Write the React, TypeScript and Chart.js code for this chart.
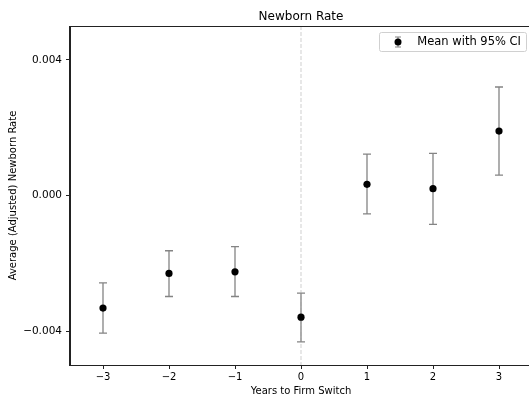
import React, { useEffect, useRef } from "react";
import { Chart, registerables } from "chart.js";

Chart.register(...registerables);

// Event-study estimates: mean newborn rate by years relative to the firm switch
const years = [-3, -2, -1, 0, 1, 2, 3];
const means = [-0.00332, -0.0023, -0.00225, -0.00359, 0.00033, 0.0002, 0.0019];
const ciLower = [-0.00406, -0.00298, -0.00298, -0.00432, -0.00054, -0.00085, 0.0006];
const ciUpper = [-0.00258, -0.00163, -0.00151, -0.00288, 0.00122, 0.00124, 0.0032];

const xTicks = [-3, -2, -1, 0, 1, 2, 3];
const yTicks = [-0.004, 0, 0.004];

const titleText = "Newborn Rate";
const xTitle = "Years to Firm Switch";
const yTitle = "Average (Adjusted) Newborn Rate";
const legendLabel = "Mean with 95% CI";

const FONT = "'DejaVu Sans', sans-serif";
const BAR_COLOR = "rgba(110,110,110,0.85)";

const minus = (s: string) => s.replace("-", "\u2212");

// Vertical CI whiskers with caps, drawn underneath the mean markers
const errorBars = {
  id: "errorBars",
  beforeDatasetsDraw(chart: any) {
    const { ctx, scales } = chart;
    const xs = scales.x;
    const ys = scales.y;
    ctx.save();
    ctx.strokeStyle = BAR_COLOR;
    ctx.lineWidth = 1.3;
    years.forEach((yr, i) => {
      const px = xs.getPixelForValue(yr);
      const top = ys.getPixelForValue(ciUpper[i]);
      const bot = ys.getPixelForValue(ciLower[i]);
      ctx.beginPath();
      ctx.moveTo(px, top);
      ctx.lineTo(px, bot);
      ctx.moveTo(px - 4, top);
      ctx.lineTo(px + 4, top);
      ctx.moveTo(px - 4, bot);
      ctx.lineTo(px + 4, bot);
      ctx.stroke();
    });
    // dashed reference line at the switch year
    const zx = xs.getPixelForValue(0);
    ctx.strokeStyle = "rgba(160,160,160,0.5)";
    ctx.lineWidth = 1;
    ctx.setLineDash([4, 2]);
    ctx.beginPath();
    ctx.moveTo(zx, chart.chartArea.top);
    ctx.lineTo(zx, chart.chartArea.bottom);
    ctx.stroke();
    ctx.restore();
  },
};

// Axes frame and legend box
const frameAndLegend = {
  id: "frameAndLegend",
  afterDraw(chart: any) {
    const { ctx, chartArea } = chart;
    const { left, top, right, bottom } = chartArea;
    ctx.save();
    ctx.strokeStyle = "#222";
    ctx.lineWidth = 1;
    ctx.strokeRect(Math.round(left) - 0.5, Math.round(top) + 0.5, Math.round(right - left), Math.round(bottom - top));

    // legend
    const bw = 147;
    const bh = 19;
    const bx = Math.round(right) - 153;
    const by = Math.round(top) + 6;
    ctx.fillStyle = "rgba(255,255,255,0.85)";
    ctx.strokeStyle = "#d0d0d0";
    ctx.lineWidth = 1;
    ctx.beginPath();
    (ctx as any).roundRect(bx + 0.5, by + 0.5, bw, bh, 2);
    ctx.fill();
    ctx.stroke();

    const ix = bx + 19;
    const iy = by + bh / 2 + 0.5;
    ctx.strokeStyle = BAR_COLOR;
    ctx.lineWidth = 1.2;
    ctx.beginPath();
    ctx.moveTo(ix, iy - 5);
    ctx.lineTo(ix, iy + 5);
    ctx.moveTo(ix - 3, iy - 5);
    ctx.lineTo(ix + 3, iy - 5);
    ctx.moveTo(ix - 3, iy + 5);
    ctx.lineTo(ix + 3, iy + 5);
    ctx.stroke();
    ctx.fillStyle = "#000";
    ctx.beginPath();
    ctx.arc(ix, iy, 3.5, 0, Math.PI * 2);
    ctx.fill();

    ctx.font = `11.5px ${FONT}`;
    ctx.textBaseline = "middle";
    ctx.textAlign = "right";
    ctx.fillText(legendLabel, bx + bw - 5, iy + 0.5);
    ctx.restore();
  },
};

export default function App() {
  const canvasRef = useRef<HTMLCanvasElement | null>(null);

  useEffect(() => {
    const canvas = canvasRef.current;
    if (!canvas) return;
    const chart = new Chart(canvas, {
      type: "scatter",
      data: {
        datasets: [
          {
            label: legendLabel,
            data: years.map((x, i) => ({ x, y: means[i] })),
            backgroundColor: "#000",
            borderColor: "#000",
            borderWidth: 0,
            pointRadius: 3.6,
            pointHoverRadius: 3.6,
          },
        ],
      },
      options: {
        responsive: false,
        animation: false,
        layout: { padding: { top: 0, right: 8, bottom: 0, left: 0 } },
        plugins: {
          legend: { display: false },
          tooltip: { enabled: false },
          title: {
            display: true,
            fullSize: false,
            text: titleText,
            color: "#000",
            font: { family: FONT, size: 12, weight: "normal" },
            padding: { top: 9.5, bottom: 2.1 },
          },
        },
        scales: {
          x: {
            type: "linear",
            min: -3.5,
            max: 3.5,
            afterBuildTicks: (s: any) => {
              s.ticks = xTicks.map((v) => ({ value: v }));
            },
            afterFit: (s: any) => {
              s.height = 33;
              s.paddingLeft = 0;
              s.paddingRight = 0;
            },
            ticks: {
              color: "#000",
              font: { family: FONT, size: 10 },
              padding: 2,
              maxRotation: 0,
              callback: (v: any) => minus(String(v)),
            },
            grid: { drawOnChartArea: false, drawTicks: true, tickLength: 4, color: "#222" },
            border: { display: true, color: "#222", width: 1 },
            title: {
              display: true,
              text: xTitle,
              color: "#000",
              font: { family: FONT, size: 10 },
              padding: { top: 0, bottom: 1 },
            },
          },
          y: {
            type: "linear",
            min: -0.005,
            max: 0.005,
            afterBuildTicks: (s: any) => {
              s.ticks = yTicks.map((v) => ({ value: v }));
            },
            afterFit: (s: any) => {
              s.width = 70;
              s.paddingTop = 0;
              s.paddingBottom = 0;
            },
            ticks: {
              color: "#000",
              font: { family: FONT, size: 10.5 },
              padding: 4,
              callback: (v: any) => minus(Number(v).toFixed(3)),
            },
            grid: { drawOnChartArea: false, drawTicks: true, tickLength: 4, color: "#222" },
            border: { display: true, color: "#222", width: 1 },
            title: {
              display: true,
              text: yTitle,
              color: "#000",
              font: { family: FONT, size: 10 },
              padding: { top: 7, bottom: 0 },
            },
          },
        },
      },
      plugins: [errorBars, frameAndLegend],
    } as any);
    return () => chart.destroy();
  }, []);

  return (
    <div
      style={{
        position: "fixed",
        left: 0,
        top: 0,
        width: 529,
        height: 398,
        overflow: "hidden",
        background: "#fff",
      }}
    >
      <canvas ref={canvasRef} width={540} height={398} style={{ display: "block" }} />
    </div>
  );
}
